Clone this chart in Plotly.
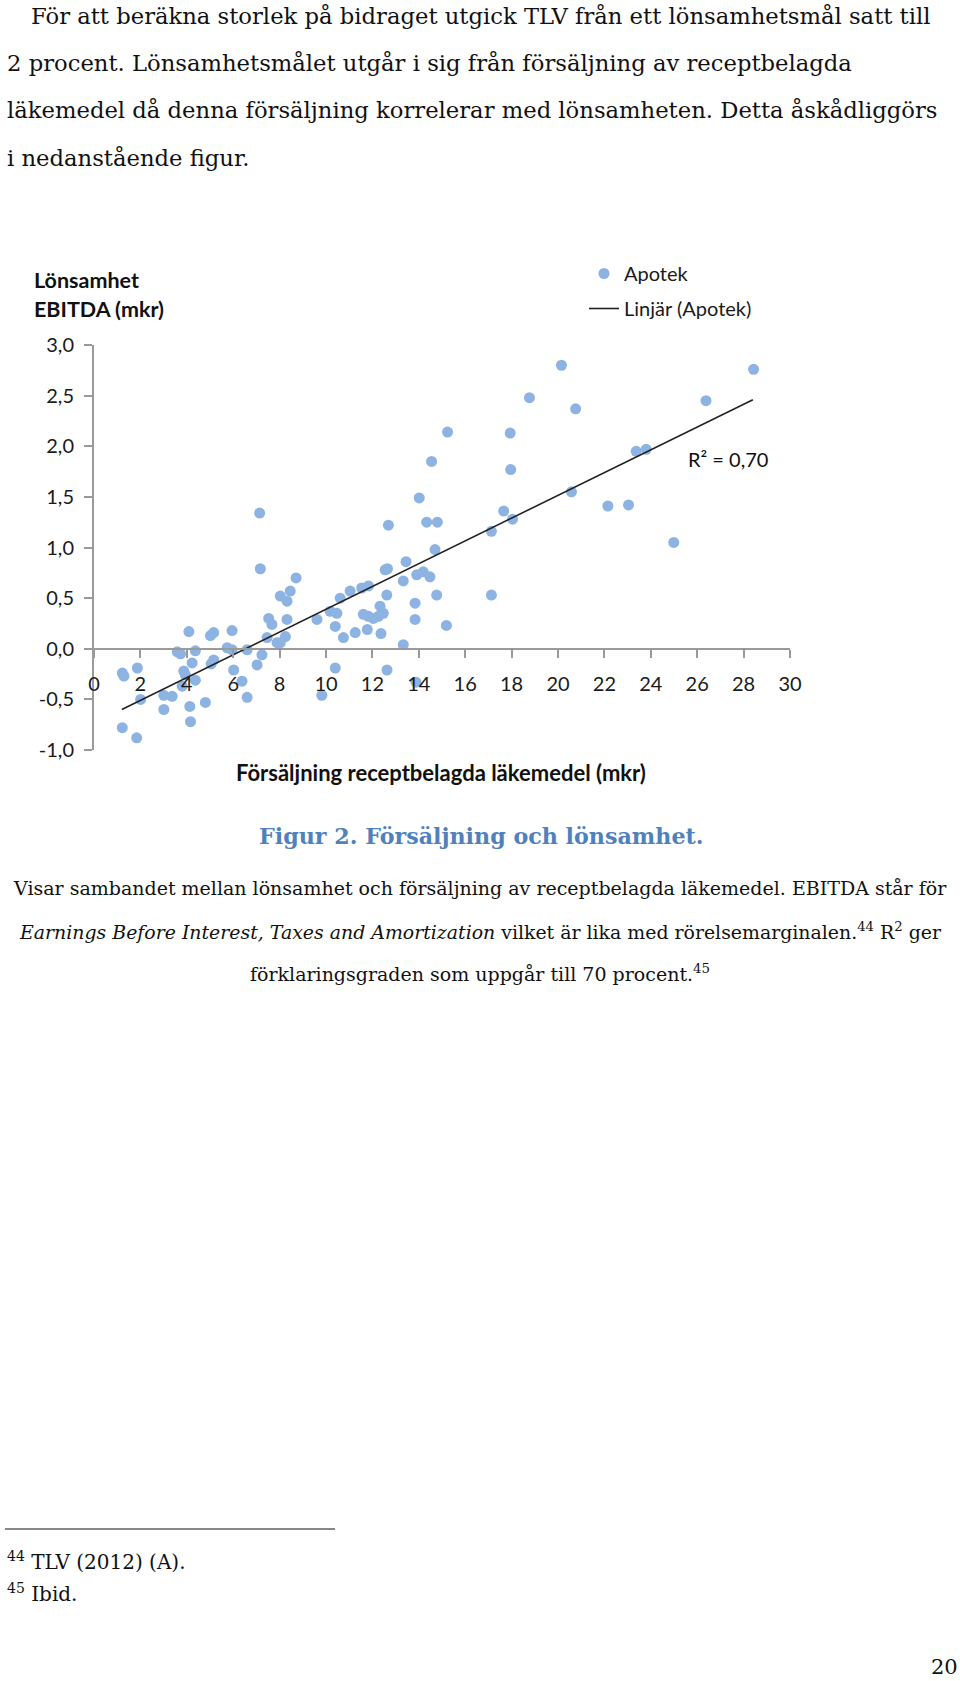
import plotly.graph_objects as go

# ---- data ----
sales = [1.22, 1.29, 1.87, 2.01, 1.22, 1.84, 3.01, 3.37, 3.01, 3.59, 3.73, 4.09, 4.37, 4.23, 3.87, 3.94,
         3.80, 4.37, 4.13, 4.16, 4.80, 5.02, 5.16, 5.16, 5.05, 5.95, 5.74, 5.95, 6.02, 6.38, 6.60, 6.60,
         7.03, 7.24, 7.17, 7.14,
         7.53, 7.67, 7.46, 7.89, 8.03, 8.46, 8.32, 8.71, 8.32, 8.25, 8.03, 9.61, 9.82, 10.40,
         10.18, 10.47, 10.40, 10.61, 11.04, 10.75, 11.26, 11.54, 11.83, 11.61, 11.83, 12.04, 12.26, 12.33,
         12.47, 11.78, 12.37, 12.55, 12.65, 12.62, 12.69, 12.63,
         13.33, 13.45, 13.33, 13.84, 13.84, 13.91, 14.19, 14.48, 13.88, 14.02, 14.34, 14.80, 14.55, 14.70,
         14.77, 15.19, 15.24,
         17.13, 17.13, 17.66, 18.04, 17.94, 17.96, 18.77, 20.15, 20.76, 20.58, 22.15, 23.04, 23.37, 23.80,
         24.99, 26.38, 28.43]
ebitda = [-0.24, -0.27, -0.19, -0.50, -0.78, -0.88, -0.46, -0.47, -0.60, -0.03, -0.05, 0.17, -0.02, -0.14, -0.22, -0.26,
          -0.37, -0.31, -0.57, -0.72, -0.53, 0.13, 0.16, -0.11, -0.15, 0.18, 0.01, -0.01, -0.21, -0.32, -0.01, -0.48,
          -0.16, -0.06, 0.79, 1.34,
          0.30, 0.24, 0.11, 0.06, 0.52, 0.57, 0.47, 0.70, 0.29, 0.12, 0.06, 0.29, -0.46, -0.19,
          0.37, 0.35, 0.22, 0.50, 0.57, 0.11, 0.16, 0.60, 0.62, 0.34, 0.32, 0.30, 0.32, 0.42,
          0.35, 0.19, 0.15, 0.78, 0.79, 0.53, 1.22, -0.21,
          0.67, 0.86, 0.04, 0.45, 0.29, 0.73, 0.76, 0.71, -0.33, 1.49, 1.25, 1.25, 1.85, 0.98,
          0.53, 0.23, 2.14,
          1.16, 0.53, 1.36, 1.28, 2.13, 1.77, 2.48, 2.80, 2.37, 1.55, 1.41, 1.42, 1.95, 1.97,
          1.05, 2.45, 2.76]
trend_x = [1.2, 28.4]
trend_y = [-0.60, 2.46]

x_ticks = [0, 2, 4, 6, 8, 10, 12, 14, 16, 18, 20, 22, 24, 26, 28, 30]
y_ticks = [-1.0, -0.5, 0.0, 0.5, 1.0, 1.5, 2.0, 2.5, 3.0]
y_ticktext = ["-1,0", "-0,5", "0,0", "0,5", "1,0", "1,5", "2,0", "2,5", "3,0"]

# ---- page layout ----
W_PAGE, H_PAGE = 960, 1681
L, R, T, B = 94, 790, 345, 750
PW, PH = R - L, B - T


def px(x):
    return (x - L) / PW


def py(y):
    return (B - y) / PH


SERIF = "DejaVu Serif"
SANS = "Lato"
AX = "#9a9a9a"
DOT = "#8DB3E2"

fig = go.Figure()
fig.add_trace(go.Scatter(x=sales, y=ebitda, mode="markers", name="Apotek",
                         marker=dict(color=DOT, size=11, line=dict(width=0)),
                         legendgroup="a"))
fig.add_trace(go.Scatter(x=trend_x, y=trend_y, mode="lines", name="Linjär (Apotek)",
                         line=dict(color="#222222", width=1.6), legendgroup="b"))

fig.update_layout(
    width=W_PAGE, height=H_PAGE,
    margin=dict(l=L, r=W_PAGE - R, t=T, b=H_PAGE - B, pad=0),
    paper_bgcolor="white", plot_bgcolor="white",
    font=dict(family=SANS, size=20, color="#1a1a1a"),
    showlegend=True,
    legend=dict(x=px(584), y=py(254), xanchor="left", yanchor="top",
                bgcolor="rgba(0,0,0,0)", font=dict(size=20, family=SANS, color="#1a1a1a"),
                itemwidth=30, tracegroupgap=6),
    xaxis=dict(range=[0, 30], tickvals=x_ticks, anchor="free", position=0.25,
               showline=True, linecolor=AX, linewidth=2, showgrid=False, zeroline=False,
               ticks="outside", ticklen=8, tickcolor=AX, tickwidth=2,
               ticklabelstandoff=9, tickfont=dict(size=20, family=SANS)),
    yaxis=dict(range=[-1, 3], tickvals=y_ticks, ticktext=y_ticktext,
               showline=True, linecolor=AX, linewidth=2, showgrid=False, zeroline=False,
               ticks="outside", ticklen=8, tickcolor=AX, tickwidth=2,
               ticklabelstandoff=6, tickfont=dict(size=20, family=SANS)),
)

ann = []


def text(x, y, s, size, family=SERIF, color="#111111", xanchor="left", yanchor="middle"):
    ann.append(dict(x=px(x), y=py(y), xref="paper", yref="paper", text=s, showarrow=False,
                    xanchor=xanchor, yanchor=yanchor, align="left",
                    font=dict(size=size, family=family, color=color)))


# top paragraph
text(29, 16, "För att beräkna storlek på bidraget utgick TLV från ett lönsamhetsmål satt till", 22.7)
text(5, 63, "2 procent. Lönsamhetsmålet utgår i sig från försäljning av receptbelagda", 22.7)
text(5, 110, "läkemedel då denna försäljning korrelerar med lönsamheten. Detta åskådliggörs", 22.7)
text(5, 158, "i nedanstående figur.", 22.7)

# chart texts
text(32, 280, "<b>Lönsamhet</b>", 21.5, family=SANS)
text(32, 309, "<b>EBITDA (mkr)</b>", 21.5, family=SANS)
text(441, 772, "<b>Försäljning receptbelagda läkemedel (mkr)</b>", 22, family=SANS, xanchor="center")
text(686, 459, "R² = 0,70", 20, family=SANS)

# caption
text(481, 836, "<b>Figur 2. Försäljning och lönsamhet.</b>", 22.2, color="#4F81BD", xanchor="center")
text(480, 888, "Visar sambandet mellan lönsamhet och försäljning av receptbelagda läkemedel. EBITDA står för",
     19, xanchor="center")
text(480, 931, "<i>Earnings Before Interest, Taxes and Amortization</i> vilket är lika med rörelsemarginalen."
               "<sup>44</sup> R<sup>2</sup> ger", 18.9, xanchor="center")
text(480, 973, "förklaringsgraden som uppgår till 70 procent.<sup>45</sup>", 19, xanchor="center")

# footnotes
text(5, 1561, "<sup>44</sup> TLV (2012) (A).", 20)
text(5, 1593, "<sup>45</sup> Ibid.", 20)
text(944, 1681, "20", 21, xanchor="center", yanchor="bottom")

fig.update_layout(annotations=ann)
fig.add_shape(type="line", xref="paper", yref="paper", x0=px(5), x1=px(335), y0=py(1529), y1=py(1529),
              line=dict(color="#111111", width=1))

fig.write_html("out.html")
